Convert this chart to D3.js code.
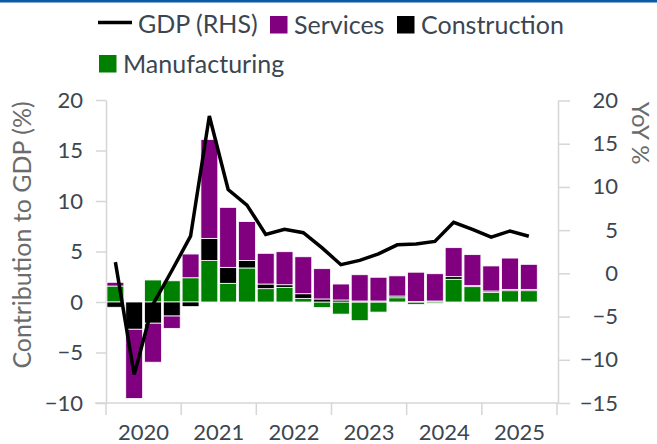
<!DOCTYPE html>
<html>
<head>
<meta charset="utf-8">
<script src="https://cdn.jsdelivr.net/npm/d3@7"></script>
<style>
  html, body { margin: 0; padding: 0; background: #fff; }
  svg { display: block; font-family: Lato, "Open Sans", sans-serif; }
</style>
</head>
<body>
<svg id="chart" width="657" height="444"></svg>
<script>
// Quarterly contributions to GDP growth (percentage points) and GDP YoY %
const years = [2020, 2021, 2022, 2023, 2024, 2025];
const quarterNames = ["Q1", "Q2", "Q3", "Q4"];

const services = [0.37, -6.85, -3.86, -1.22, 2.35, 9.8, 5.94, 3.86, 3.04, 3.27, 3.66, 3.0,
                  1.58, 2.6, 2.35, 2.0, 2.9, 2.7, 2.87, 3.07, 2.48, 3.1, 2.48];
const construction = [-0.52, -2.7, -2.1, -1.39, -0.46, 2.2, 1.58, 0.73, 0.46, 0.26, 0.46, 0.3,
                      0.2, 0.1, 0.1, 0.17, 0.05, 0.1, 0.26, 0.1, 0.13, 0.13, 0.13];
const manufacturing = [1.58, 0, 2.18, 2.1, 2.4, 4.1, 1.85, 3.37, 1.32, 1.45, 0.36, -0.55,
                       -1.2, -1.85, -1.0, 0.42, -0.25, -0.15, 2.25, 1.52, 0.96, 1.12, 1.12];
const gdp = [1.3, -11.7, -3.6, 0.3, 4.3, 18.2, 9.7, 7.9, 4.5, 5.1, 4.7, 2.95,
             1.0, 1.5, 2.25, 3.3, 3.4, 3.7, 5.9, 5.1, 4.2, 4.9, 4.3];

const leftTicks = [-10, -5, 0, 5, 10, 15, 20];
const rightTicks = [-15, -10, -5, 0, 5, 10, 15, 20];

const seriesKeys = ["manufacturing", "construction", "services"];
const seriesColor = { manufacturing: "#008000", construction: "#000000", services: "#800080" };

const textColor = "#3c4650";
const titleColor = "#6b6b6b";
const axisColor = "#d6d6d6";
const tickFont = 22;
const legendFont = 25;

const svg = d3.select("#chart");

// top rule
svg.append("rect").attr("x", 0).attr("y", 0).attr("width", 657).attr("height", 2.5).attr("fill", "#0b5aa5");

const quarters = years.flatMap(y => quarterNames.map(q => `${y} ${q}`));
const rows = services.map((s, i) => ({
  quarter: quarters[i],
  services: s,
  construction: construction[i],
  manufacturing: manufacturing[i],
  gdp: gdp[i]
}));

const x = d3.scaleBand().domain(quarters).range([106, 557]).paddingInner(0.1).paddingOuter(0.05);
const yL = d3.scaleLinear().domain([-10, 20]).range([403, 100]);
const yR = d3.scaleLinear().domain([-15, 20]).range([403, 100.5]);

// axes
const leftAxis = d3.axisLeft(yL).tickValues(leftTicks).tickSize(10).tickSizeOuter(0).tickPadding(13);
const gL = svg.append("g").attr("transform", "translate(106,0)").call(leftAxis);
gL.select(".domain").attr("stroke", axisColor).attr("stroke-width", 1.5);
gL.selectAll(".tick line").attr("stroke", axisColor).attr("stroke-width", 1.5);
gL.selectAll(".tick text").attr("fill", textColor).attr("font-size", tickFont).attr("font-family", "Lato");

const rightAxis = d3.axisRight(yR).tickValues(rightTicks).tickSize(12).tickSizeOuter(0);
const gR = svg.append("g").attr("transform", "translate(558,0)").call(rightAxis);
gR.select(".domain").attr("stroke", axisColor).attr("stroke-width", 1.5);
gR.selectAll(".tick line").attr("stroke", axisColor).attr("stroke-width", 1.5);
gR.selectAll(".tick text").attr("fill", textColor).attr("font-size", tickFont).attr("font-family", "Lato")
  .attr("text-anchor", "end").attr("x", 60);

// bottom axis: year boundaries and year labels
const step = x.step();
const x0 = x.range()[0];
svg.append("line").attr("x1", 95).attr("x2", 558).attr("y1", 403).attr("y2", 403)
  .attr("stroke", axisColor).attr("stroke-width", 1.5);
const boundaries = d3.range(years.length + 1).map(i => x0 + i * 4 * step);
svg.append("g").selectAll("line").data(boundaries).join("line")
  .attr("x1", d => d).attr("x2", d => d).attr("y1", 403).attr("y2", 415)
  .attr("stroke", axisColor).attr("stroke-width", 1.5);
svg.append("g").selectAll("text").data(years).join("text")
  .attr("x", (d, i) => x0 + (i * 4 + 2) * step)
  .attr("y", 440)
  .attr("text-anchor", "middle")
  .attr("fill", textColor).attr("font-size", tickFont).attr("font-family", "Lato")
  .text(d => d);

// axis titles
svg.append("text")
  .attr("transform", "translate(31,235) rotate(-90)")
  .attr("text-anchor", "middle")
  .attr("fill", titleColor).attr("font-size", 25).attr("font-family", "Lato")
  .text("Contribution to GDP (%)");
svg.append("text")
  .attr("transform", "translate(632,133) rotate(90)")
  .attr("text-anchor", "middle")
  .attr("fill", titleColor).attr("font-size", 24).attr("font-family", "Lato")
  .text("YoY %");

// stacked bars
const stacked = d3.stack().keys(seriesKeys).offset(d3.stackOffsetDiverging)(rows);
svg.append("g").selectAll("g").data(stacked).join("g")
  .attr("fill", d => seriesColor[d.key])
  .selectAll("rect").data(d => d).join("rect")
  .attr("x", d => x(d.data.quarter))
  .attr("width", x.bandwidth())
  .attr("y", d => yL(Math.max(d[0], d[1])))
  .attr("height", d => Math.abs(yL(d[0]) - yL(d[1])))
  .attr("stroke", "#ffffff").attr("stroke-width", 0.8);

// GDP line on the right axis
const line = d3.line()
  .x(d => x(d.quarter) + x.bandwidth() / 2)
  .y(d => yR(d.gdp));
svg.append("path").datum(rows)
  .attr("d", line)
  .attr("fill", "none").attr("stroke", "#000").attr("stroke-width", 3.5);

// legend
const legend = svg.append("g").attr("font-family", "Lato").attr("font-size", legendFont).attr("fill", textColor);
legend.append("line").attr("x1", 98).attr("x2", 132).attr("y1", 22.5).attr("y2", 22.5)
  .attr("stroke", "#000").attr("stroke-width", 3.5);
legend.append("text").attr("x", 138).attr("y", 33).text("GDP (RHS)");
const swatches = [
  { key: "services", label: "Services", x: 270, y: 16 },
  { key: "construction", label: "Construction", x: 397, y: 16 },
  { key: "manufacturing", label: "Manufacturing", x: 99, y: 55 }
];
swatches.forEach(s => {
  legend.append("rect").attr("x", s.x).attr("y", s.y).attr("width", 17.5).attr("height", 17.5)
    .attr("fill", seriesColor[s.key]);
  legend.append("text").attr("x", s.x + 24).attr("y", s.y + 17.5).text(s.label);
});
</script>
</body>
</html>
